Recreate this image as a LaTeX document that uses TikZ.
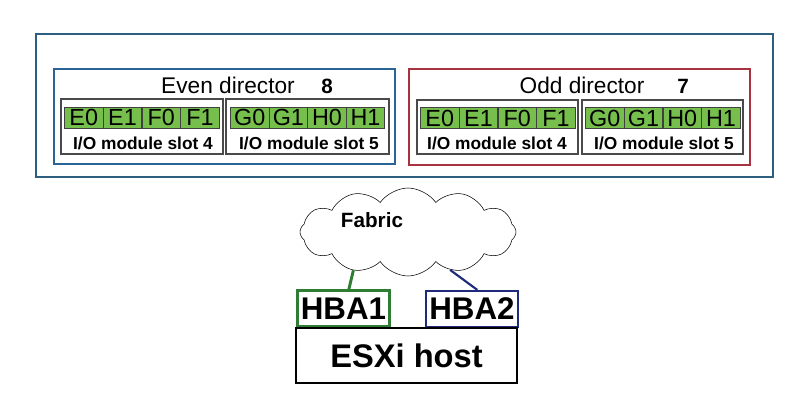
\documentclass[tikz,border=0pt]{standalone}
\usepackage{fontspec}
\setmainfont{Liberation Sans}
\usepackage{tikz}
\usetikzlibrary{positioning,fit,shapes.symbols}
\usepackage{xcolor}
\definecolor{frame}{HTML}{2F5F80}
\definecolor{evenc}{HTML}{2A6496}
\definecolor{oddc}{HTML}{A83240}
\definecolor{port}{HTML}{76BF4C}
\definecolor{slotc}{HTML}{4A4A4A}
\definecolor{hbagreen}{HTML}{2E7D32}
\definecolor{hbablue}{HTML}{1F2A7A}

\begin{document}
\begin{tikzpicture}[x=0.75pt, y=-0.75pt,
    portcell/.style={draw=black!75, fill=port, line width=0.6pt, minimum width=29pt, minimum height=15.75pt, inner sep=0pt, font=\fontsize{17.5}{17.5}\selectfont},
    slotbox/.style={draw=slotc, line width=1.1pt, inner sep=0pt},
    slotlabel/.style={font=\bfseries\fontsize{13}{14}\selectfont},
    dirlabel/.style={font=\fontsize{17}{18}\selectfont},
    dirnum/.style={font=\bfseries\fontsize{15.5}{16}\selectfont},
    hbabox/.style={line width=1.6pt, inner sep=0pt, minimum width=69pt, minimum height=27pt, font=\bfseries\fontsize{23.5}{24}\selectfont}]
    \useasboundingbox (0,0) rectangle (791,402);
    % storage array
    \node[draw=frame, line width=1.9pt, inner sep=0pt, fit={(36,34) (773,177)}] (array) {};
    \node[draw=evenc, line width=1.9pt, inner sep=0pt, fit={(54,69) (395,164)}] (evendir) {};
    \node[draw=oddc, line width=1.9pt, inner sep=0pt, fit={(409,69) (750,165)}] (odddir) {};
    \node[dirlabel] (evenlbl) at (228,85) {Even director};
    \node[dirnum] (evennum) at (327,86) {8};
    \node[dirlabel] (oddlbl) at (582,85) {Odd director};
    \node[dirnum] (oddnum) at (683,86) {7};
    % I/O module slots
    \node[slotbox, fit={(61,99) (223,154)}] (evens4) {};
    \node[slotbox, fit={(226,99) (389,154)}] (evens5) {};
    \node[slotbox, fit={(417,100) (578,154)}] (odds4) {};
    \node[slotbox, fit={(582,100) (743,154)}] (odds5) {};
    \node[slotlabel] (evens4lbl) at (143,143) {I/O module slot 4};
    \node[slotlabel] (evens5lbl) at (309,143) {I/O module slot 5};
    \node[slotlabel] (odds4lbl) at (497,143) {I/O module slot 4};
    \node[slotlabel] (odds5lbl) at (664,143) {I/O module slot 5};
    % ports
    \foreach \p [count=\i from 0] in {E0,E1,F0,F1} {
      \node[portcell, anchor=west] (evena\i) at ({64+38.75*\i},117.5) {\p};
      \node[portcell, anchor=west] (odda\i) at ({420+38.75*\i},118) {\p};
    }
    \foreach \p [count=\i from 0] in {G0,G1,H0,H1} {
      \node[portcell, anchor=west] (evenb\i) at ({230+38.6*\i},117.5) {\p};
      \node[portcell, anchor=west] (oddb\i) at ({585+38.75*\i},118) {\p};
    }
    % host side
    \node[cloud, draw, cloud puffs=12, cloud puff arc=110, cloud ignores aspect, minimum width=162pt, minimum height=66pt, inner sep=0pt] (fabric) at (408,232) {};
    \node[font=\bfseries\fontsize{15.5}{16}\selectfont] (fabriclbl) at (372,220) {Fabric};
    \node[hbabox, draw=hbagreen] (hba1) at (343.5,308.5) {HBA1};
    \node[hbabox, draw=hbablue] (hba2) at (472,309) {HBA2};
    \node[draw, line width=1.6pt, inner sep=0pt, minimum width=165.75pt, minimum height=41.25pt, font=\bfseries\fontsize{24.5}{25}\selectfont] (esxi) at (406.5,355.5) {ESXi host};
    \draw[hbagreen, line width=2.2pt] ([xshift=4pt]hba1.north) -- (fabric.215);
    \draw[hbablue, line width=1.6pt] ([xshift=4pt]hba2.north) -- (fabric.318);
\end{tikzpicture}
\end{document}
